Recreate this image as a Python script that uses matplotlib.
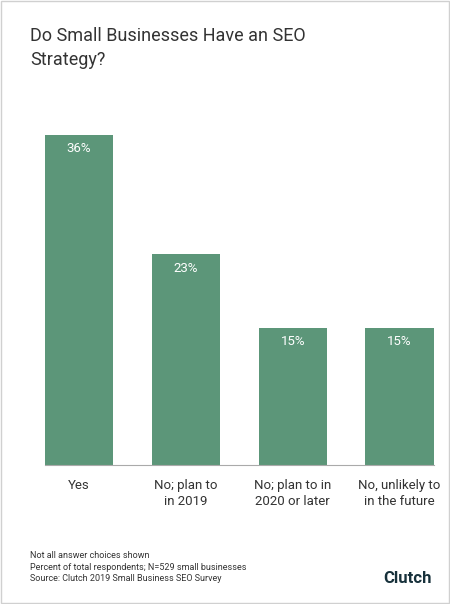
import matplotlib.pyplot as plt
from matplotlib.patches import Rectangle

categories = ['Yes', 'No; plan to\nin 2019', 'No; plan to in\n2020 or later', 'No, unlikely to\nin the future']
values = [36, 23, 15, 15]
labels = ['36%', '23%', '15%', '15%']
bar_color = '#5c9679'

fig = plt.figure(figsize=(4.5, 6.04), dpi=100)
fig.patches.append(Rectangle((0.002, 0.002), 0.996, 0.996, transform=fig.transFigure,
                             fill=False, edgecolor='#d0d0d0', linewidth=1))

ax = fig.add_axes([0.1, 0.230, 0.864, 0.607])
x = range(len(values))
ax.bar(x, values, width=0.64, color=bar_color)
for i, v in enumerate(values):
    ax.text(i, v - 0.8, labels[i], ha='center', va='top', color='white', fontsize=9.5, family='Roboto')
ax.set_xlim(-0.32, 3.32)
ax.set_ylim(0, 40)
ax.set_yticks([])
ax.set_xticks(list(x))
ax.set_xticklabels(categories, fontsize=9.5, family='Roboto', color='#333333', linespacing=1.3)
ax.tick_params(axis='x', length=0, pad=10)
for s in ['top', 'right', 'left']:
    ax.spines[s].set_visible(False)
ax.spines['bottom'].set_color('#aaaaaa')

fig.text(0.067, 0.955, 'Do Small Businesses Have an SEO\nStrategy?', ha='left', va='top',
         fontsize=13, family='Roboto', color='#333333', linespacing=1.45)

fig.text(0.067, 0.088, 'Not all answer choices shown\nPercent of total respondents; N=529 small businesses\nSource: Clutch 2019 Small Business SEO Survey',
         ha='left', va='top', fontsize=6.5, family='Roboto', color='#333333', linespacing=1.4)
fig.text(0.96, 0.043, 'Clutch', ha='right', va='center', fontsize=12, fontweight='bold',
         family='Roboto', color='#17313b')

fig.savefig('out.png', dpi=100)
